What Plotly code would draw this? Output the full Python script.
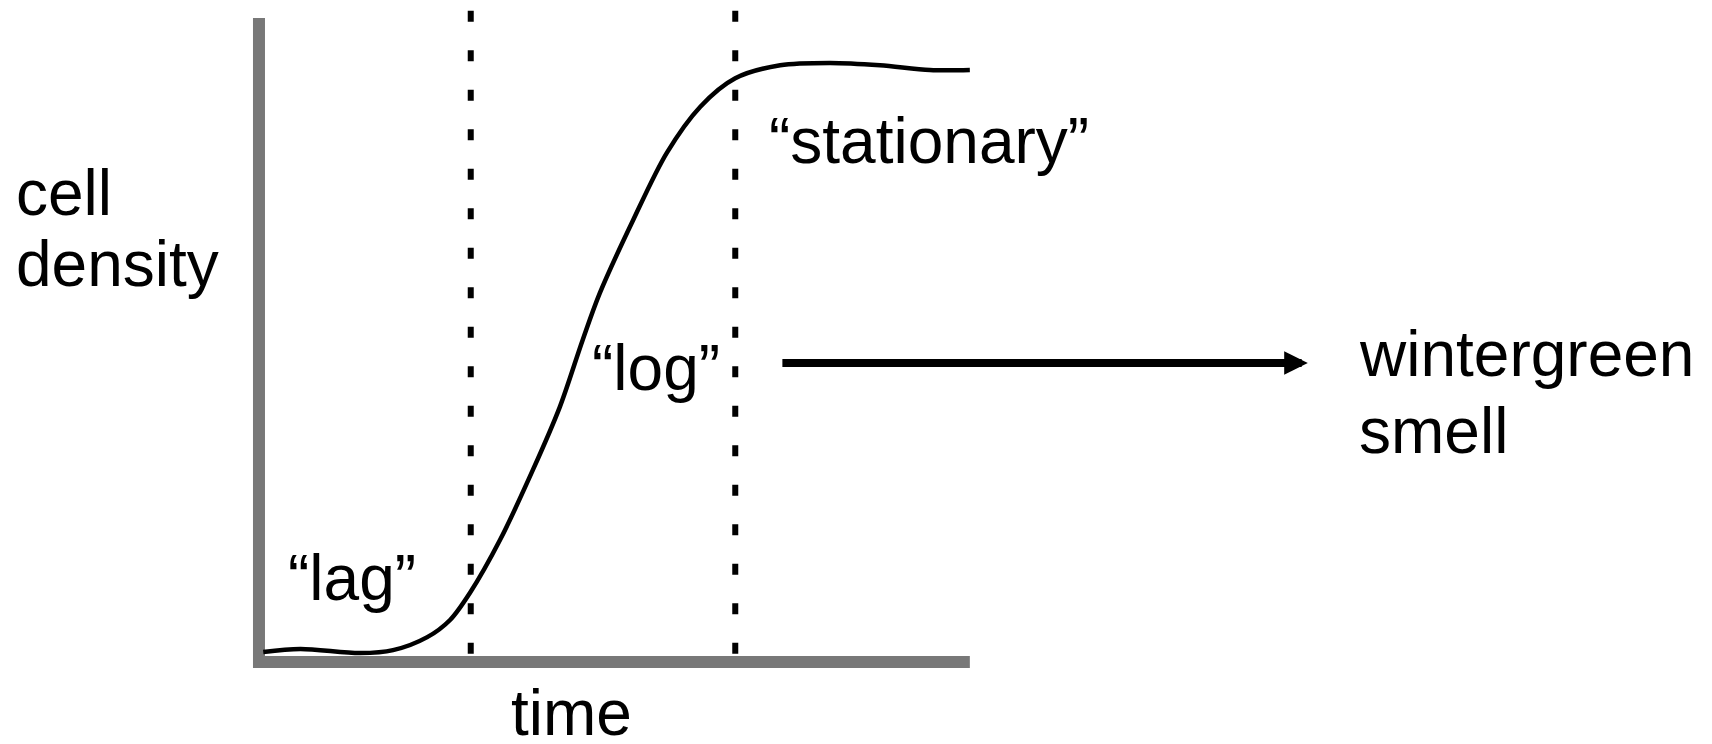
import plotly.graph_objects as go

# growth curve (time units, density units)
time = [0.06, 0.58, 1.42, 1.88, 2.36, 2.68, 2.96, 3.38, 3.84, 4.22, 4.54,
        4.78, 5.25, 5.72, 6.19, 6.68, 7.31, 8.01, 8.71, 9.41, 9.97]
density = [0.17, 0.22, 0.15, 0.20, 0.42, 0.71, 1.17, 2.06, 3.24, 4.31, 5.44,
           6.23, 7.47, 8.60, 9.38, 9.86, 10.08, 10.12, 10.08, 10.0, 10.0]

# phase boundaries (dotted lines)
phase_edges = [2.97, 6.68]
phase_top = 11.0

# L-shaped axes
axis_x = [0, 0, 9.97]
axis_y = [10.88, 0, 0]

font = dict(family="Liberation Sans, Arial, Helvetica, sans-serif", size=64, color="black")

fig = go.Figure()

fig.add_trace(go.Scatter(x=axis_x, y=axis_y, mode="lines",
                         line=dict(color="#787878", width=12),
                         hoverinfo="skip", showlegend=False))

for xe in phase_edges:
    fig.add_trace(go.Scatter(x=[xe, xe], y=[phase_top, 0], mode="lines",
                             line=dict(color="black", width=6, dash="11px,28.5px"),
                             hoverinfo="skip", showlegend=False))

fig.add_trace(go.Scatter(x=time, y=density, mode="lines",
                         line=dict(color="black", width=4.5, shape="spline", smoothing=0.9),
                         hoverinfo="skip", showlegend=False))

labels = [
    ("cell", -3.44, 7.92, "left"),
    ("density", -3.44, 6.72, "left"),
    ("time", 4.38, -0.86, "center"),
    ("\u201clag\u201d", 0.38, 1.42, "left"),
    ("\u201clog\u201d", 4.64, 4.97, "left"),
    ("\u201cstationary\u201d", 7.12, 8.80, "left"),
    ("wintergreen", 15.40, 5.20, "left"),
    ("smell", 15.40, 3.90, "left"),
]
for txt, x, y, anchor in labels:
    fig.add_annotation(text=txt, x=x, y=y, xref="x", yref="y",
                       xanchor=anchor, yanchor="middle", showarrow=False, font=font)

# arrow to "wintergreen smell"
fig.add_annotation(x=14.71, y=5.05, ax=7.32, ay=5.05, xref="x", yref="y",
                   axref="x", ayref="y", text="", showarrow=True,
                   arrowhead=2, arrowsize=0.59, arrowwidth=8, arrowcolor="black")

# page body has an 8px margin, so the figure is 8px smaller than the window
fig.update_xaxes(range=[-3.520, 20.379], visible=False, fixedrange=True)
fig.update_yaxes(range=[-1.385, 11.047], visible=False, fixedrange=True)
fig.update_layout(width=1704, height=736, margin=dict(l=0, r=0, t=0, b=0),
                  plot_bgcolor="white", paper_bgcolor="white", showlegend=False)

fig.write_html("out.html")
